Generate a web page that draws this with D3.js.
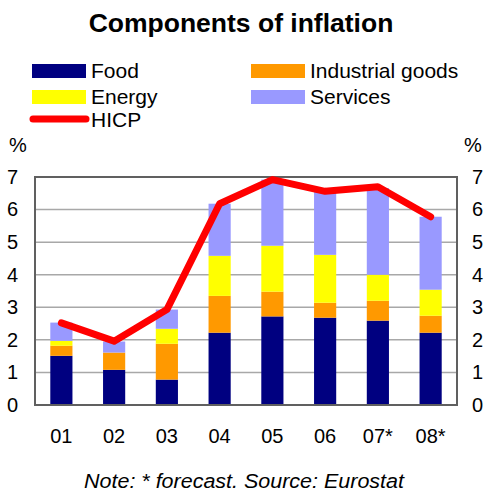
<!DOCTYPE html>
<html>
<head>
<meta charset="utf-8">
<script src="https://cdn.jsdelivr.net/npm/d3@7"></script>
<style>
  body { margin: 0; background: #fff; }
  text { font-family: "Liberation Sans", Arial, sans-serif; fill: #000; }
</style>
</head>
<body>
<div id="chart"></div>
<script>
// Chart data
const years = ["01", "02", "03", "04", "05", "06", "07*", "08*"];
const food = [1.51, 1.08, 0.78, 2.22, 2.72, 2.68, 2.59, 2.22];
const industrial = [0.31, 0.53, 1.10, 1.13, 0.76, 0.46, 0.61, 0.52];
const energy = [0.15, 0.0, 0.46, 1.23, 1.41, 1.47, 0.80, 0.80];
const services = [0.56, 0.34, 0.59, 1.60, 2.03, 1.95, 2.66, 2.24];
const hicp = [2.52, 1.96, 2.93, 6.18, 6.92, 6.56, 6.70, 5.78];
const yTicks = [0, 1, 2, 3, 4, 5, 6, 7];

const SERIES = [
  { key: "Food", values: food, color: "#000080" },
  { key: "Industrial goods", values: industrial, color: "#ff9900" },
  { key: "Energy", values: energy, color: "#ffff00" },
  { key: "Services", values: services, color: "#9999ff" }
];

const width = 485, height = 493;
const plot = { left: 35, right: 457, top: 177, bottom: 405 };

const svg = d3.select("#chart").append("svg")
  .attr("width", width)
  .attr("height", height);

// Title
svg.append("text")
  .attr("x", 241).attr("y", 32)
  .attr("text-anchor", "middle")
  .attr("font-size", "26.5px")
  .attr("font-weight", "bold")
  .text("Components of inflation");

// Scales
const x = d3.scaleBand()
  .domain(years)
  .range([plot.left, plot.right])
  .paddingInner(0.58)
  .paddingOuter(0.29);

const y = d3.scaleLinear()
  .domain([0, 7])
  .range([plot.bottom, plot.top]);

// Gridlines
svg.append("g")
  .selectAll("line")
  .data(yTicks.slice(1, -1))
  .join("line")
  .attr("x1", plot.left).attr("x2", plot.right)
  .attr("y1", d => y(d)).attr("y2", d => y(d))
  .attr("stroke", "#a8a8a8")
  .attr("stroke-width", 1.5);

// Stacked bars
const rows = years.map((yr, i) => {
  const r = { year: yr };
  SERIES.forEach(s => { r[s.key] = s.values[i]; });
  return r;
});
const stacked = d3.stack().keys(SERIES.map(s => s.key))(rows);

svg.append("g")
  .selectAll("g")
  .data(stacked)
  .join("g")
  .attr("fill", (d, i) => SERIES[i].color)
  .selectAll("rect")
  .data(d => d)
  .join("rect")
  .attr("x", d => x(d.data.year))
  .attr("width", x.bandwidth())
  .attr("y", d => y(d[1]))
  .attr("height", d => y(d[0]) - y(d[1]));

// Plot frame
svg.append("rect")
  .attr("x", plot.left).attr("y", plot.top)
  .attr("width", plot.right - plot.left)
  .attr("height", plot.bottom - plot.top)
  .attr("fill", "none")
  .attr("stroke", "#606060")
  .attr("stroke-width", 2);

// HICP line
const line = d3.line()
  .x((d, i) => x(years[i]) + x.bandwidth() / 2)
  .y(d => y(d));

svg.append("path")
  .datum(hicp)
  .attr("d", line)
  .attr("fill", "none")
  .attr("stroke", "#ff0000")
  .attr("stroke-width", 7)
  .attr("stroke-linejoin", "round")
  .attr("stroke-linecap", "round");

// Axes
const fmt = d3.format("d");
const leftAxis = d3.axisLeft(y).tickValues(yTicks).tickFormat(fmt).tickSize(0).tickPadding(17);
const rightAxis = d3.axisRight(y).tickValues(yTicks).tickFormat(fmt).tickSize(0).tickPadding(15);
const bottomAxis = d3.axisBottom(x).tickSize(0).tickPadding(24);

function styleAxis(g) {
  g.select(".domain").remove();
  g.selectAll("text")
    .attr("font-size", "20px")
    .attr("font-family", "Liberation Sans, Arial, sans-serif")
    .attr("fill", "#000");
}

svg.append("g")
  .attr("transform", `translate(${plot.left},0)`)
  .call(leftAxis).call(styleAxis);

svg.append("g")
  .attr("transform", `translate(${plot.right},0)`)
  .call(rightAxis).call(styleAxis);

svg.append("g")
  .attr("transform", `translate(0,${plot.bottom})`)
  .call(bottomAxis).call(styleAxis);

// Unit labels
svg.append("text")
  .attr("x", 9).attr("y", 152)
  .attr("font-size", "20px")
  .text("%");
svg.append("text")
  .attr("x", 464).attr("y", 152)
  .attr("font-size", "20px")
  .text("%");

// Legend
const legendItems = [
  { label: "Food", color: "#000080", type: "bar", x: 32, y: 64 },
  { label: "Industrial goods", color: "#ff9900", type: "bar", x: 251, y: 64 },
  { label: "Energy", color: "#ffff00", type: "bar", x: 32, y: 90 },
  { label: "Services", color: "#9999ff", type: "bar", x: 251, y: 90 },
  { label: "HICP", color: "#ff0000", type: "line", x: 32, y: 113 }
];

const legend = svg.append("g");
legendItems.forEach(item => {
  if (item.type === "bar") {
    legend.append("rect")
      .attr("x", item.x).attr("y", item.y)
      .attr("width", 54).attr("height", 14)
      .attr("fill", item.color);
  } else {
    legend.append("line")
      .attr("x1", item.x + 1).attr("x2", item.x + 54)
      .attr("y1", item.y + 6).attr("y2", item.y + 6)
      .attr("stroke", item.color)
      .attr("stroke-width", 7)
      .attr("stroke-linecap", "round");
  }
  legend.append("text")
    .attr("x", item.x + 59).attr("y", item.y + 14)
    .attr("font-size", "21px")
    .text(item.label);
});

// Note
svg.append("text")
  .attr("x", 244).attr("y", 488)
  .attr("text-anchor", "middle")
  .attr("font-size", "20px")
  .attr("font-style", "italic")
  .attr("textLength", 320)
  .attr("lengthAdjust", "spacingAndGlyphs")
  .text("Note: * forecast. Source: Eurostat");
</script>
</body>
</html>
